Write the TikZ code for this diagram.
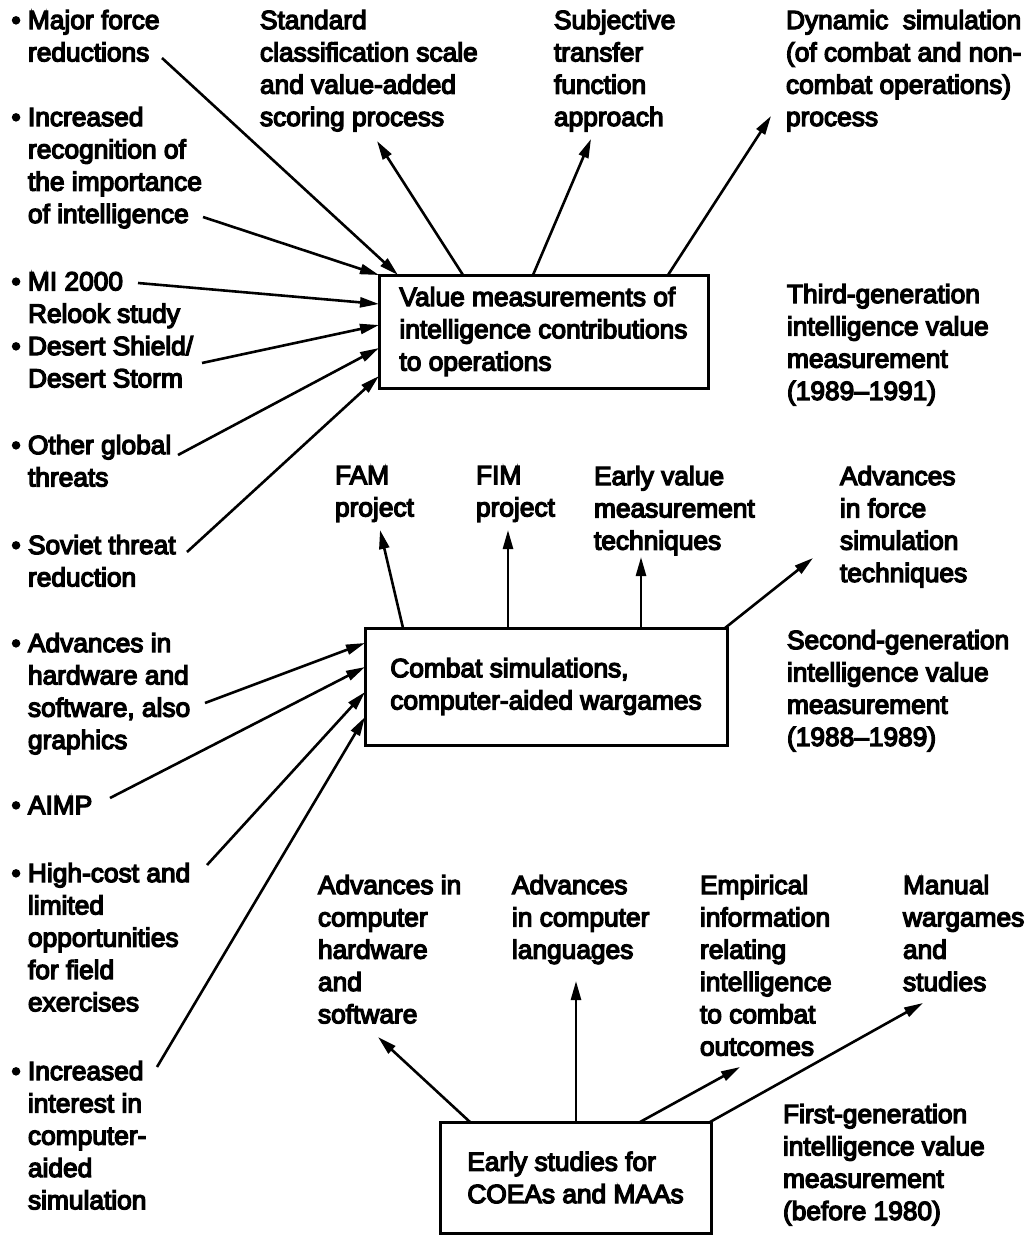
\documentclass[tikz,border=0pt]{standalone}
\usepackage{fontspec}
\setmainfont{Liberation Sans}[FakeBold=5]
\usetikzlibrary{arrows.meta}
\begin{document}
\begin{tikzpicture}[x=1pt,y=-1pt,
  lbl/.style={anchor=north west,inner sep=0pt,outer sep=0pt,align=left,
    font=\fontsize{26.3}{32.3}\selectfont},
  stage/.style={draw,line width=3pt,inner sep=0pt,outer sep=0pt,align=left,
    font=\fontsize{26.3}{32.3}\selectfont},
  arr/.style={line width=2.6pt,-{Triangle[length=19pt,width=10pt]}},
]
\useasboundingbox (0,0) rectangle (1031,1237);
\newcommand{\itm}{\llap{\textbullet\ }}

% ---------- generation boxes ----------
\node[stage,minimum width=329pt,minimum height=113pt] (vm) at (543.5,331.5)
  {Value measurements of\\intelligence contributions\\to operations};
\node[stage,minimum width=362pt,minimum height=117pt] (cs) at (546,686.5)
  {Combat simulations,\\computer-aided wargames};
\node[stage,minimum width=271pt,minimum height=111pt] (es) at (575.5,1177.5)
  {Early studies for\\COEAs and MAAs};

% ---------- driving factors (left column) ----------
\node[lbl] (major)    at (28,10)   {\itm Major force\\reductions};
\node[lbl] (recog)    at (28,107)  {\itm Increased\\recognition of\\the importance\\of intelligence};
\node[lbl] (mi)       at (28,272)  {\itm MI 2000\\Relook study};
\node[lbl] (desert)   at (28,336)  {\itm Desert Shield/\\Desert Storm};
\node[lbl] (global)   at (28,435)  {\itm Other global\\threats};
\node[lbl] (soviet)   at (28,535)  {\itm Soviet threat\\reduction};
\node[lbl] (hwsw)     at (28,633)  {\itm Advances in\\hardware and\\software, also\\graphics};
\node[lbl] (aimp)     at (28,796)  {\itm AIMP};
\node[lbl] (highcost) at (28,863)  {\itm High-cost and\\limited\\opportunities\\for field\\exercises};
\node[lbl] (interest) at (28,1061) {\itm Increased\\interest in\\computer-\\aided\\simulation};

% ---------- outcomes of the third generation ----------
\node[lbl] (std)  at (260,10) {Standard\\classification scale\\and value-added\\scoring process};
\node[lbl] (subj) at (554,10) {Subjective\\transfer\\function\\approach};
\node[lbl] (dyn)  at (786,10) {Dynamic\ \ simulation\\(of combat and non-\\combat operations)\\process};

% ---------- outcomes of the second generation ----------
\node[lbl] (fam)   at (335,466) {FAM\\project};
\node[lbl] (fim)   at (476,466) {FIM\\project};
\node[lbl] (early) at (594,466) {Early value\\measurement\\techniques};
\node[lbl] (force) at (840,466) {Advances\\in force\\simulation\\techniques};

% ---------- outcomes of the first generation ----------
\node[lbl] (hw2)  at (318,875) {Advances in\\computer\\hardware\\and\\software};
\node[lbl] (lang) at (512,875) {Advances\\in computer\\languages};
\node[lbl] (emp)  at (700,875) {Empirical\\information\\relating\\intelligence\\to combat\\outcomes};
\node[lbl] (man)  at (903,875) {Manual\\wargames\\and\\studies};

% ---------- generation captions ----------
\node[lbl] (third)  at (787,284)  {Third-generation\\intelligence value\\measurement\\(1989--1991)};
\node[lbl] (second) at (787,630)  {Second-generation\\intelligence value\\measurement\\(1988--1989)};
\node[lbl] (first)  at (783,1104) {First-generation\\intelligence value\\measurement\\(before 1980)};

% ---------- arrows into the value-measurement box ----------
\draw[arr] ([shift={(134,48)}]major.north west)  -- ([shift={(19,0)}]vm.north west);
\draw[arr] ([shift={(175,110)}]recog.north west) -- (vm.north west);
\draw[arr] ([shift={(110,11)}]mi.north west)     -- ([shift={(0,29)}]vm.north west);
\draw[arr] ([shift={(174,27)}]desert.north west) -- ([shift={(0,50)}]vm.north west);
\draw[arr] ([shift={(150,20)}]global.north west) -- ([shift={(0,73)}]vm.north west);
\draw[arr] ([shift={(159,17)}]soviet.north west) -- ([shift={(0,101)}]vm.north west);

% ---------- arrows out of the value-measurement box ----------
\draw[arr] ([shift={(84,0)}]vm.north west)  -- ([shift={(117,131)}]std.north west);
\draw[arr] ([shift={(154,0)}]vm.north west) -- ([shift={(37,129)}]subj.north west);
\draw[arr] ([shift={(289,0)}]vm.north west) -- ([shift={(-15,106)}]dyn.north west);

% ---------- arrows into the combat-simulation box ----------
\draw[arr] ([shift={(177,70)}]hwsw.north west)    -- ([shift={(0,15)}]cs.north west);
\draw[arr] ([shift={(82,2)}]aimp.north west)      -- ([shift={(0,39)}]cs.north west);
\draw[arr] ([shift={(179,2)}]highcost.north west) -- ([shift={(0,64)}]cs.north west);
\draw[arr] ([shift={(129,6)}]interest.north west) -- ([shift={(0,89)}]cs.north west);

% ---------- arrows out of the combat-simulation box ----------
\draw[arr] ([shift={(38,0)}]cs.north west)  -- ([shift={(45,64)}]fam.north west);
\draw[arr] ([shift={(143,0)}]cs.north west) -- ([shift={(32,64)}]fim.north west);
\draw[arr] ([shift={(276,0)}]cs.north west) -- ([shift={(47,91)}]early.north west);
\draw[arr] ([shift={(360,0)}]cs.north west) -- ([shift={(-27,92)}]force.north west);

% ---------- arrows out of the early-studies box ----------
\draw[arr] ([shift={(30,0)}]es.north west)  -- ([shift={(60,162)}]hw2.north west);
\draw[arr] ([shift={(136,0)}]es.north west) -- ([shift={(64,106)}]lang.north west);
\draw[arr] ([shift={(200,0)}]es.north west) -- ([shift={(40,192)}]emp.north west);
\draw[arr] ([shift={(270,0)}]es.north west) -- ([shift={(20,128)}]man.north west);
\end{tikzpicture}
\end{document}
